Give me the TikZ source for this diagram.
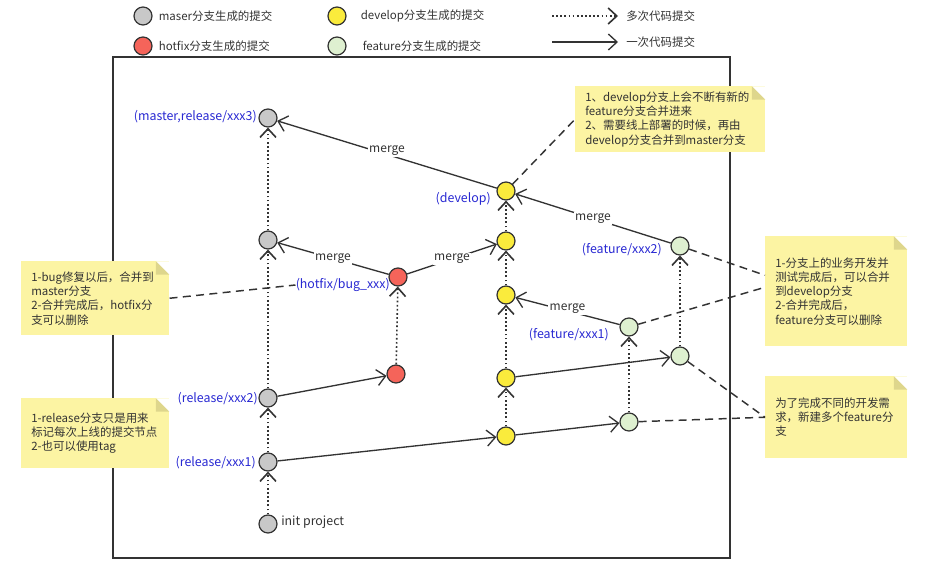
\documentclass[tikz,border=0pt]{standalone}
\usepackage{fontspec}
\setmainfont{Noto Sans CJK SC}
\usetikzlibrary{arrows.meta,positioning}
\definecolor{ink}{RGB}{51,51,51}
\definecolor{mastergray}{RGB}{200,200,200}
\definecolor{hotred}{RGB}{245,100,90}
\definecolor{devyellow}{RGB}{250,235,60}
\definecolor{featgreen}{RGB}{222,240,208}
\definecolor{notey}{RGB}{252,244,163}
\definecolor{notefold}{RGB}{222,214,140}
\definecolor{lblblue}{RGB}{40,40,210}

\tikzset{
  commit/.style={circle,draw=ink,line width=.9pt,minimum size=13.5pt,inner sep=0pt},
  mcommit/.style={commit,fill=mastergray},
  hcommit/.style={commit,fill=hotred},
  dcommit/.style={commit,fill=devyellow},
  fcommit/.style={commit,fill=featgreen},
  lbl/.style={text=lblblue,inner sep=0pt,font=\fontsize{9.3pt}{11pt}\selectfont},
  keytext/.style={text=ink,inner sep=0pt},
  mergelbl/.style={fill=white,text=ink,inner sep=1pt,font=\fontsize{9pt}{11pt}\selectfont},
  once/.style={draw=ink,line width=1pt,-{Straight Barb[length=6.5pt,width=12pt]}},
  many/.style={once,line width=1.2pt,dash pattern=on 1.3pt off 1.8pt},
  tonote/.style={draw=ink,line width=1.1pt,dash pattern=on 6pt off 4pt},
  note/.style={fill=notey,anchor=north west,align=left,inner xsep=7.5pt,inner ysep=0pt,text=ink,
    path picture={
      \fill[white] ([xshift=-10pt]path picture bounding box.north east)
        -- (path picture bounding box.north east)
        -- ([yshift=-10pt]path picture bounding box.north east) -- cycle;
      \fill[notefold] ([xshift=-10pt]path picture bounding box.north east)
        -- ([yshift=-10pt]path picture bounding box.north east)
        -- ([xshift=-10pt,yshift=-10pt]path picture bounding box.north east) -- cycle;}}
}

\begin{document}
\begin{tikzpicture}[x=.75pt,y=-.75pt,font=\fontsize{8.6pt}{10.7pt}\selectfont]
\useasboundingbox (0,0) rectangle (926,581);

% legend
\node[mcommit] (keym) at (143,16) {};
\node[hcommit] (keyh) at (143,46) {};
\node[dcommit] (keyd) at (337,16) {};
\node[fcommit] (keyf) at (337,46) {};
\node[keytext,right=4.5pt of keym] (keymt) {maser分支生成的提交};
\node[keytext,right=4.5pt of keyh] (keyht) {hotfix分支生成的提交};
\node[keytext,right=10.5pt of keyd] (keydt) {develop分支生成的提交};
\node[keytext,right=12pt of keyf] (keyft) {feature分支生成的提交};
\coordinate (many0) at (552,16);
\coordinate (many1) at (618,16);
\coordinate (once0) at (552,42);
\coordinate (once1) at (618,42);
\draw[many] (many0) -- (many1);
\draw[once] (once0) -- (once1);
\node[keytext,right=6pt of many1] (manyt) {多次代码提交};
\node[keytext,right=6pt of once1] (oncet) {一次代码提交};

% frame
\draw[ink,line width=1.1pt] (113,57) rectangle (730,558);

% commits
\node[mcommit] (init) at (268,524) {};
\node[mcommit] (rel1) at (268,462) {};
\node[mcommit] (rel2) at (268,398) {};
\node[mcommit] (mst2) at (268,240) {};
\node[mcommit] (mst3) at (268,118) {};
\node[hcommit] (hfx1) at (396,374) {};
\node[hcommit] (hfx2) at (398,277) {};
\node[dcommit] (dev0) at (506,436) {};
\node[dcommit] (dev1) at (506,378) {};
\node[dcommit] (dev2) at (506,295) {};
\node[dcommit] (dev3) at (506,241) {};
\node[dcommit] (dev4) at (506,191) {};
\node[fcommit] (fa1) at (629,422) {};
\node[fcommit] (fa2) at (629,327) {};
\node[fcommit] (fb1) at (680,356) {};
\node[fcommit] (fb2) at (680,246) {};

% branch labels
\node[lbl,anchor=east] (lmst3) at (257,117) {(master,release/xxx3)};
\node[lbl,anchor=east] (ldev) at (491,199) {(develop)};
\node[lbl,anchor=east] (lhfx) at (390,285) {(hotfix/bug\_xxx)};
\node[lbl,anchor=east] (lrel2) at (258,399) {(release/xxx2)};
\node[lbl,anchor=east] (lrel1) at (256,463) {(release/xxx1)};
\node[lbl,anchor=east] (lfb) at (662,250) {(feature/xxx2)};
\node[lbl,anchor=east] (lfa) at (609,335) {(feature/xxx1)};
\node[keytext,anchor=west,font=\fontsize{9.3pt}{11pt}\selectfont] (linit) at (281,522) {init project};

% commits along a branch
\foreach \a/\b in {init/rel1,rel1/rel2,rel2/mst2,mst2/mst3,hfx1/hfx2,
  dev0/dev1,dev1/dev2,dev2/dev3,dev3/dev4,fa1/fa2,fb1/fb2}
  \draw[many] (\a) -- (\b);

% single commits and merges
\draw[once] (rel1) -- (dev0);
\draw[once] (rel2) -- (hfx1);
\draw[once] (dev1) -- (fb1);
\draw[once] (dev0) -- (fa1);
\draw[once] (hfx2) -- node[mergelbl] (mg1) {merge} (mst2);
\draw[once] (hfx2) -- node[mergelbl] (mg2) {merge} (dev3);
\draw[once] (dev4) -- node[mergelbl,yshift=3pt] (mg3) {merge} (mst3);
\draw[once] (fb2) -- node[mergelbl] (mg4) {merge} (dev4);
\draw[once] (fa2) -- node[mergelbl,yshift=1.5pt] (mg5) {merge} (dev2);

% notes
\node[note,text width=127.5pt,minimum height=49.5pt] (note1) at (575,86)
  {1、develop分支上会不断有新的\\feature分支合并进来\\2、需要线上部署的时候，再由\\develop分支合并到master分支};
\node[note,text width=96pt,minimum height=55.5pt] (note2) at (21,261)
  {1-bug修复以后，合并到\\master分支\\2-合并完成后，hotfix分\\支可以删除};
\node[note,text width=96pt,minimum height=52.5pt] (note3) at (21,398)
  {1-release分支只是用来\\标记每次上线的提交节点\\2-也可以使用tag};
\node[note,text width=91.5pt,minimum height=82.5pt] (note4) at (765,236)
  {1-分支上的业务开发并\\测试完成后，可以合并\\到develop分支\\2-合并完成后，\\feature分支可以删除};
\node[note,text width=91.5pt,minimum height=61.5pt] (note5) at (765,376)
  {为了完成不同的开发需\\求，新建多个feature分\\支};

\draw[tonote] (dev4) -- (note1.west);
\draw[tonote] (note2.east) -- (lhfx.west);
\draw[tonote] (fb2) -- ([yshift=12pt]note4.west);
\draw[tonote] (fa2) -- ([yshift=3pt]note4.west);
\draw[tonote] (fb1) -- (note5.west);
\draw[tonote] (fa1) -- (note5.west);
\end{tikzpicture}
\end{document}
